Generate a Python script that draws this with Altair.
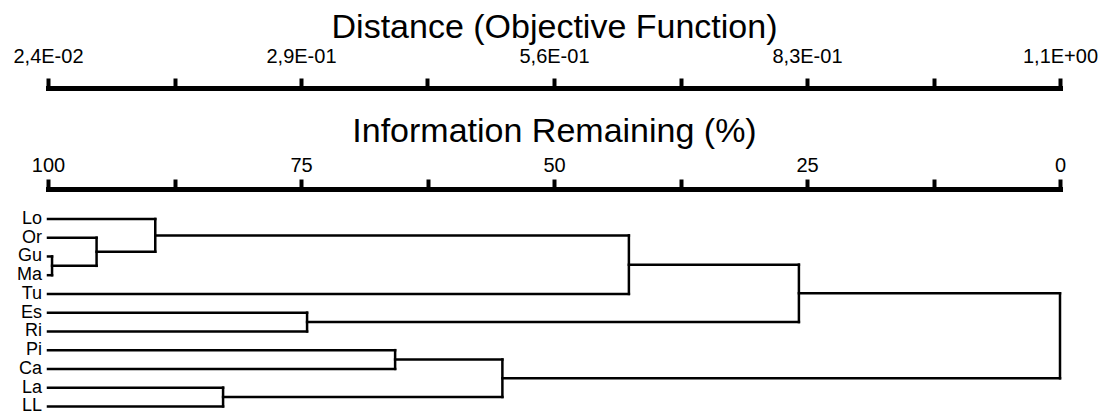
import json
import altair as alt
import pandas as pd

# ---- data ----
leaves = ["Lo", "Or", "Gu", "Ma", "Tu", "Es", "Ri", "Pi", "Ca", "La", "LL"]
# merges: (left child, right child, information remaining % at merge)
merge_left = ["Gu", "Or", "Lo", "Es", "La", "Pi", "m6", "m3", "m8", "m9"]
merge_right = ["Ma", "m1", "m2", "Ri", "LL", "Ca", "m5", "Tu", "m4", "m7"]
merge_height = [99.6, 95.2, 89.4, 74.4, 82.7, 65.7, 55.1, 42.6, 25.8, 0.0]

info_ticks = [100, 87.5, 75, 62.5, 50, 37.5, 25, 12.5, 0]
dist_ticks = [0.024, 0.1585, 0.293, 0.4275, 0.562, 0.6965, 0.831, 0.9655, 1.1]
dist_labels = ["2,4E-02", "", "2,9E-01", "", "5,6E-01", "", "8,3E-01", "", "1,1E+00"]

# ---- build dendrogram segments from the merge list ----
pos = {name: (100.0, float(i)) for i, name in enumerate(leaves)}
segs = []
for k, (a, b, h) in enumerate(zip(merge_left, merge_right, merge_height), start=1):
    xa, ya = pos[a]
    xb, yb = pos[b]
    segs.append({"x0": xa, "x1": h, "y0": ya, "y1": ya})
    segs.append({"x0": xb, "x1": h, "y0": yb, "y1": yb})
    segs.append({"x0": h, "x1": h, "y0": ya, "y1": yb})
    pos[f"m{k}"] = (h, (ya + yb) / 2)
seg_df = pd.DataFrame(segs)
leaf_df = pd.DataFrame({"name": leaves, "idx": list(range(len(leaves))), "x": [100.0] * len(leaves)})
dist_df = pd.DataFrame({"d": [dist_ticks[0], dist_ticks[-1]]})

FONT = "Liberation Sans"
yscale = alt.Scale(domain=[-1.6, 10.3], reverse=True, nice=False, zero=False)


def make_axis(title, values, label_expr, offset, label_pad, title_pad):
    return alt.Axis(
        orient="top", values=values, title=title, offset=offset,
        labelExpr=label_expr,
        domainWidth=5, domainColor="black", domainCap="square",
        tickWidth=4, tickSize=10, tickColor="black", tickCap="butt",
        labelFont=FONT, labelFontSize=20, labelColor="black", labelPadding=label_pad,
        labelFlush=False, labelOverlap=False, grid=False,
        titleFont=FONT, titleFontSize=34, titleFontWeight="normal", titleColor="black",
        titlePadding=title_pad,
    )


info_axis = make_axis("Information Remaining (%)", info_ticks,
                      "datum.value % 25 == 0 ? datum.label : ''", 0, 4, 7)
dist_axis = make_axis("Distance (Objective Function)", dist_ticks,
                      f"{json.dumps(dist_labels)}[round((datum.value - 0.024) / 0.1345)]",
                      101, 12, 2)

rules = alt.Chart(seg_df).mark_rule(color="black", strokeWidth=2.5, strokeCap="square").encode(
    x=alt.X("x0:Q", scale=alt.Scale(domain=[0, 100], reverse=True, nice=False), axis=info_axis),
    x2="x1:Q",
    y=alt.Y("y0:Q", scale=yscale, axis=None),
    y2="y1:Q",
)

texts = alt.Chart(leaf_df).mark_text(align="right", baseline="middle", dx=-6, font=FONT,
                                     fontSize=18, color="black").encode(
    x=alt.X("x:Q", scale=alt.Scale(domain=[0, 100], reverse=True, nice=False), axis=None),
    y=alt.Y("idx:Q", scale=yscale, axis=None),
    text="name:N",
)

dist = alt.Chart(dist_df).mark_point(opacity=0).encode(
    x=alt.X("d:Q", scale=alt.Scale(domain=[dist_ticks[0], dist_ticks[-1]], nice=False, zero=False),
            axis=dist_axis),
)

chart = alt.layer(rules, texts, dist).resolve_scale(x="independent").properties(
    width=1012, height=223,
    padding={"left": 40, "top": 181, "right": 41, "bottom": 5},
    autosize=alt.AutoSizeParams(type="none"),
    background="white",
).configure_view(strokeWidth=0, stroke="transparent")

chart.save("out.html", embed_options={"renderer": "svg", "actions": False})
